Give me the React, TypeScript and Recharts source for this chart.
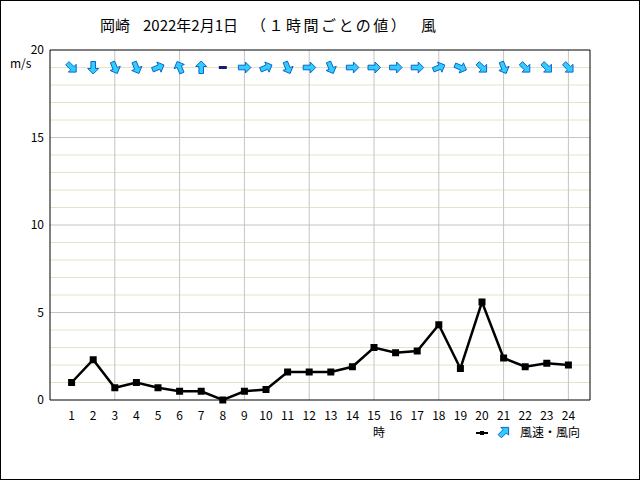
import React from "react";
import {
  ComposedChart,
  Line,
  Scatter,
  XAxis,
  YAxis,
  ReferenceLine,
} from "recharts";

const HOURS = [1, 2, 3, 4, 5, 6, 7, 8, 9, 10, 11, 12, 13, 14, 15, 16, 17, 18, 19, 20, 21, 22, 23, 24];
const SPEEDS = [1.0, 2.3, 0.7, 1.0, 0.7, 0.5, 0.5, 0.0, 0.5, 0.6, 1.6, 1.6, 1.6, 1.9, 3.0, 2.7, 2.8, 4.3, 1.8, 5.6, 2.4, 1.9, 2.1, 2.0];
// direction the arrow points, degrees clockwise from up; null = calm
const DIRS: (number | null)[] = [
  135, 180, 157.5, 157.5, 67.5, 337.5, 0, null, 90, 67.5, 157.5, 90,
  157.5, 90, 90, 90, 90, 67.5, 112.5, 135, 157.5, 135, 135, 135,
];
const Y_TICKS = [0, 5, 10, 15, 20];
const MINOR_Y = [1, 2, 3, 4, 6, 7, 8, 9, 11, 12, 13, 14, 16, 17, 18, 19];
const MAJOR_Y = [5, 10, 15];
const V_GRID = [3, 6, 9, 12, 15, 18, 21, 24];
const ARROW_ROW = 19;

const rows = HOURS.map((h, i) => ({ hour: h, speed: SPEEDS[i], dir: DIRS[i], arrow: ARROW_ROW }));

const FONT = "'Noto Sans CJK JP', sans-serif";

function arrowPoints(cx: number, cy: number, deg: number) {
  const base = [
    [0, -6.5], [5.5, -1], [2.3, -1], [2.3, 6], [-2.3, 6], [-2.3, -1], [-5.5, -1],
  ];
  const r = (deg * Math.PI) / 180;
  const c = Math.cos(r);
  const s = Math.sin(r);
  return base
    .map(([x, y]) => `${(cx + x * c - y * s).toFixed(2)},${(cy + x * s + y * c).toFixed(2)}`)
    .join(" ");
}

// eslint-disable-next-line @typescript-eslint/no-explicit-any
function WindArrow(props: any) {
  const { cx, cy, payload } = props;
  if (cx == null || cy == null) return <g />;
  if (payload.dir == null) {
    return <rect x={cx - 4} y={cy - 1.5} width={8} height={3} fill="#1a1a70" />;
  }
  return (
    <polygon
      points={arrowPoints(cx, cy, payload.dir)}
      fill="#33ccff"
      stroke="#0a66c8"
      strokeWidth={1}
    />
  );
}

// eslint-disable-next-line @typescript-eslint/no-explicit-any
function SquareDot(props: any) {
  const { cx, cy, index } = props;
  return <rect key={index} x={cx - 3.5} y={cy - 3.5} width={7} height={7} fill="#000" />;
}

const txt = (left: number, top: number, size: number): React.CSSProperties => ({
  position: "absolute",
  left,
  top,
  fontSize: size,
  lineHeight: 1,
  whiteSpace: "nowrap",
  color: "#000",
});

export default function App() {
  return (
    <div
      style={{
        position: "absolute",
        left: 0,
        top: 0,
        width: 640,
        height: 480,
        boxSizing: "border-box",
        border: "1px solid #000",
        background: "#fff",
        fontFamily: FONT,
      }}
    >
      <div style={{ position: "absolute", left: -1, top: -1 }}>
        <ComposedChart
          width={640}
          height={480}
          data={rows}
          margin={{ top: 50, right: 50, bottom: 50, left: 0 }}
        >
          {MINOR_Y.map((v) => (
            <ReferenceLine key={"m" + v} y={v} stroke="#e6e2c6" strokeWidth={1} />
          ))}
          {MAJOR_Y.map((v) => (
            <ReferenceLine key={"M" + v} y={v} stroke="#c4c4c4" strokeWidth={1} />
          ))}
          {V_GRID.map((v) => (
            <ReferenceLine key={"v" + v} x={v} stroke="#c4c4c4" strokeWidth={1} />
          ))}
          <ReferenceLine x={0} stroke="#000" strokeWidth={1} />
          <ReferenceLine x={25} stroke="#000" strokeWidth={1} />
          <ReferenceLine y={0} stroke="#000" strokeWidth={1} />
          <ReferenceLine y={20} stroke="#000" strokeWidth={1} />
          <XAxis
            dataKey="hour"
            type="number"
            domain={[0, 25]}
            ticks={HOURS}
            interval={0}
            axisLine={false}
            tickLine={false}
            tickSize={0}
            tickMargin={11}
            height={30}
            tick={{ fontSize: 12, fill: "#000", fontFamily: FONT }}
          />
          <YAxis
            type="number"
            domain={[0, 20]}
            ticks={Y_TICKS}
            interval={0}
            axisLine={false}
            tickLine={false}
            tickSize={0}
            tickMargin={6}
            width={50}
            tick={{ fontSize: 12, fill: "#000", fontFamily: FONT }}
          />
          <Line
            dataKey="speed"
            stroke="#000"
            strokeWidth={2.5}
            dot={SquareDot}
            activeDot={false}
            isAnimationActive={false}
          />
          <Scatter
            data={rows}
            dataKey="arrow"
            shape={WindArrow}
            isAnimationActive={false}
          />
        </ComposedChart>
      </div>
      <span style={txt(99, 16, 15)}>岡崎</span>
      <span style={txt(142, 16, 15)}>2022年2月1日</span>
      <span style={{ ...txt(250, 16, 15), letterSpacing: 2.5 }}>（１時間ごとの値）</span>
      <span style={txt(420, 16, 15)}>風</span>
      <span style={txt(9, 56, 12)}>m/s</span>
      <span style={txt(372, 425, 12)}>時</span>
      <svg
        width={40}
        height={16}
        style={{ position: "absolute", left: 473, top: 423 }}
      >
        <line x1={2} y1={9} x2={14} y2={9} stroke="#000" strokeWidth={2} />
        <rect x={6} y={7} width={4} height={4} fill="#000" />
        <polygon points={arrowPoints(30, 8, 45)} fill="#33ccff" stroke="#0a66c8" strokeWidth={1} />
      </svg>
      <span style={txt(519, 425, 12)}>風速・風向</span>
    </div>
  );
}
